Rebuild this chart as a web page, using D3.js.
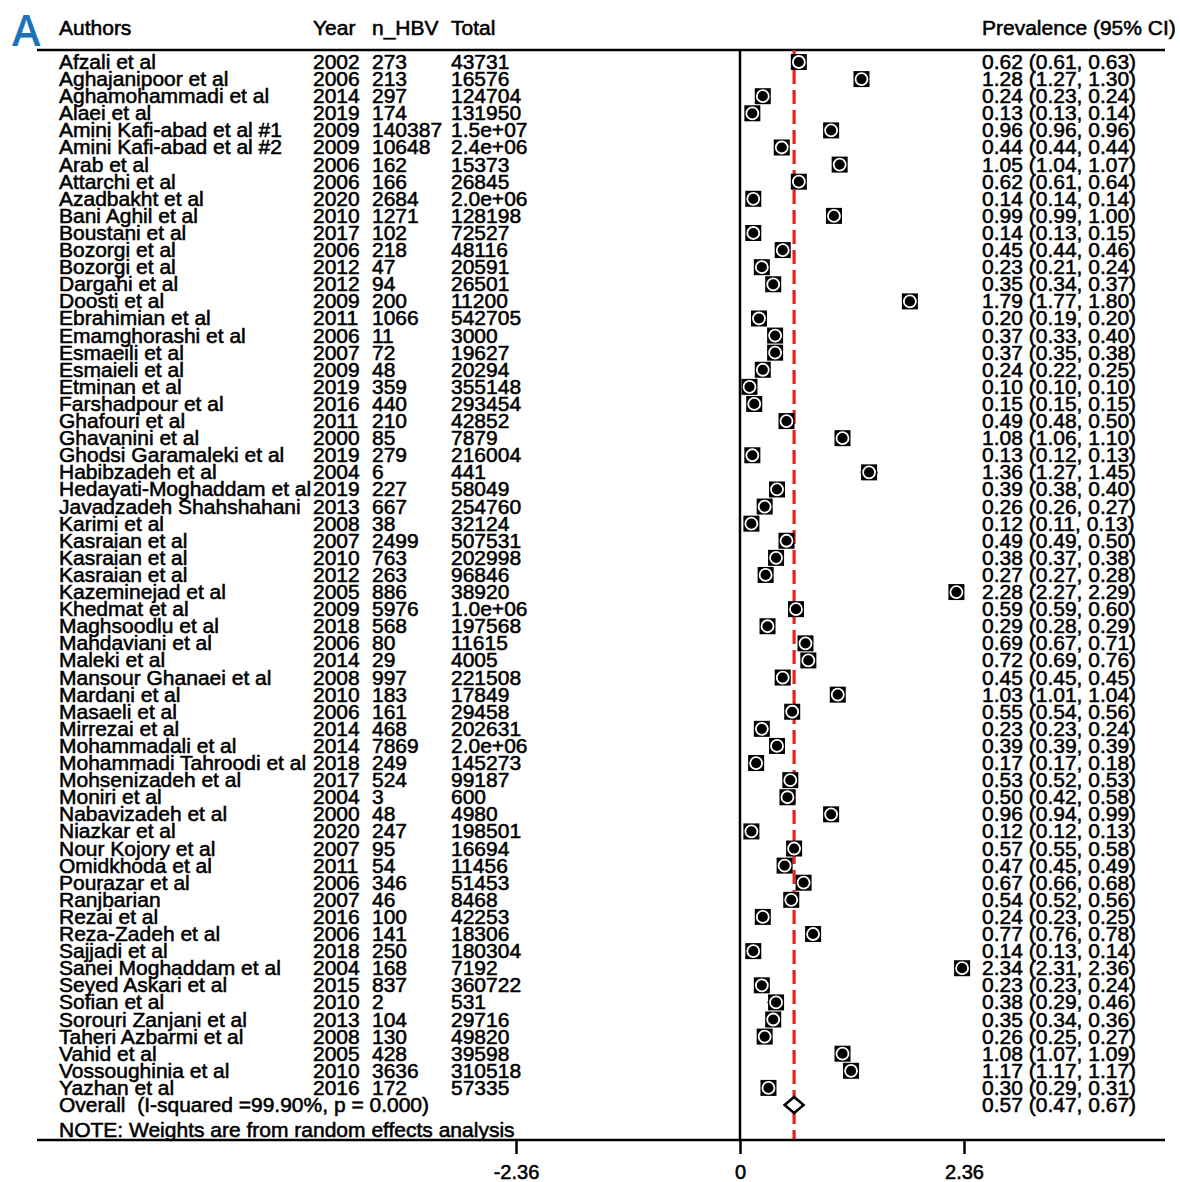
<!DOCTYPE html>
<html>
<head>
<meta charset="utf-8">
<script src="https://cdn.jsdelivr.net/npm/d3@7"></script>
<style>
  html, body { margin: 0; padding: 0; background: #fff; }
  svg text { font-family: "Liberation Sans", Arial, sans-serif; }
</style>
</head>
<body>
<svg id="chart" width="1180" height="1182"></svg>
<script>
const authors = ["Afzali et al","Aghajanipoor et al","Aghamohammadi et al","Alaei et al","Amini Kafi-abad et al #1","Amini Kafi-abad et al #2","Arab et al","Attarchi et al","Azadbakht et al","Bani Aghil et al","Boustani et al","Bozorgi et al","Bozorgi et al","Dargahi et al","Doosti et al","Ebrahimian et al","Emamghorashi et al","Esmaeili et al","Esmaieli et al","Etminan et al","Farshadpour et al","Ghafouri et al","Ghavanini et al","Ghodsi Garamaleki et al","Habibzadeh et al","Hedayati-Moghaddam et al","Javadzadeh Shahshahani","Karimi et al","Kasraian et al","Kasraian et al","Kasraian et al","Kazeminejad et al","Khedmat et al","Maghsoodlu et al","Mahdaviani et al","Maleki et al","Mansour Ghanaei et al","Mardani et al","Masaeli et al","Mirrezai et al","Mohammadali et al","Mohammadi Tahroodi et al","Mohsenizadeh et al","Moniri et al","Nabavizadeh et al","Niazkar et al","Nour Kojory et al","Omidkhoda et al","Pourazar et al","Ranjbarian","Rezai et al","Reza-Zadeh et al","Sajjadi et al","Sanei Moghaddam et al","Seyed Askari et al","Sofian et al","Sorouri Zanjani et al","Taheri Azbarmi et al","Vahid et al","Vossoughinia et al","Yazhan et al"];
const years = [2002,2006,2014,2019,2009,2009,2006,2006,2020,2010,2017,2006,2012,2012,2009,2011,2006,2007,2009,2019,2016,2011,2000,2019,2004,2019,2013,2008,2007,2010,2012,2005,2009,2018,2006,2014,2008,2010,2006,2014,2014,2018,2017,2004,2000,2020,2007,2011,2006,2007,2016,2006,2018,2004,2015,2010,2013,2008,2005,2010,2016];
const nHBV = ["273","213","297","174","140387","10648","162","166","2684","1271","102","218","47","94","200","1066","11","72","48","359","440","210","85","279","6","227","667","38","2499","763","263","886","5976","568","80","29","997","183","161","468","7869","249","524","3","48","247","95","54","346","46","100","141","250","168","837","2","104","130","428","3636","172"];
const totals = ["43731","16576","124704","131950","1.5e+07","2.4e+06","15373","26845","2.0e+06","128198","72527","48116","20591","26501","11200","542705","3000","19627","20294","355148","293454","42852","7879","216004","441","58049","254760","32124","507531","202998","96846","38920","1.0e+06","197568","11615","4005","221508","17849","29458","202631","2.0e+06","145273","99187","600","4980","198501","16694","11456","51453","8468","42253","18306","180304","7192","360722","531","29716","49820","39598","310518","57335"];
const est = [0.62,1.28,0.24,0.13,0.96,0.44,1.05,0.62,0.14,0.99,0.14,0.45,0.23,0.35,1.79,0.20,0.37,0.37,0.24,0.10,0.15,0.49,1.08,0.13,1.36,0.39,0.26,0.12,0.49,0.38,0.27,2.28,0.59,0.29,0.69,0.72,0.45,1.03,0.55,0.23,0.39,0.17,0.53,0.50,0.96,0.12,0.57,0.47,0.67,0.54,0.24,0.77,0.14,2.34,0.23,0.38,0.35,0.26,1.08,1.17,0.30];
const lower = [0.61,1.27,0.23,0.13,0.96,0.44,1.04,0.61,0.14,0.99,0.13,0.44,0.21,0.34,1.77,0.19,0.33,0.35,0.22,0.10,0.15,0.48,1.06,0.12,1.27,0.38,0.26,0.11,0.49,0.37,0.27,2.27,0.59,0.28,0.67,0.69,0.45,1.01,0.54,0.23,0.39,0.17,0.52,0.42,0.94,0.12,0.55,0.45,0.66,0.52,0.23,0.76,0.13,2.31,0.23,0.29,0.34,0.25,1.07,1.17,0.29];
const upper = [0.63,1.30,0.24,0.14,0.96,0.44,1.07,0.64,0.14,1.00,0.15,0.46,0.24,0.37,1.80,0.20,0.40,0.38,0.25,0.10,0.15,0.50,1.10,0.13,1.45,0.40,0.27,0.13,0.50,0.38,0.28,2.29,0.60,0.29,0.71,0.76,0.45,1.04,0.56,0.24,0.39,0.18,0.53,0.58,0.99,0.13,0.58,0.49,0.68,0.56,0.25,0.78,0.14,2.36,0.24,0.46,0.36,0.27,1.09,1.17,0.31];
const overallLabel = "Overall  (I-squared =99.90%, p = 0.000)";
const overallEst = 0.57, overallLo = 0.47, overallHi = 0.67;
const headers = ["Authors","Year","n_HBV","Total","Prevalence (95% CI)"];
const tickValues = [-2.36, 0, 2.36];
const noteText = "NOTE: Weights are from random effects analysis";

const svg = d3.select("#chart");
const fmt = v => v.toFixed(2);
const FS = 21;
const SW = 0.55;

const x = d3.scaleLinear().domain([-2.36, 2.36]).range([516, 964]);
const y = d3.scalePoint().domain(d3.range(authors.length + 1)).range([62, 1105]);

const colX = {author: 59, year: 313, n: 372, total: 451, ci: 982};
const topY = 50, axisY = 1140, lineLeft = 37, lineRight = 1165;

// panel label
svg.append("text").attr("x", 12).attr("y", 46)
  .style("font-family", "'Open Sans', sans-serif")
  .attr("font-size", 43).attr("font-weight", 600).attr("fill", "#1b74bb").text("A");

// headers
const hdr = svg.append("g").attr("font-size", FS).attr("fill", "#000")
  .attr("stroke", "#000").attr("stroke-width", SW);
[[headers[0], colX.author],[headers[1], colX.year],[headers[2], colX.n],[headers[3], colX.total],[headers[4], colX.ci]]
  .forEach(([t, px]) => hdr.append("text").attr("x", px).attr("y", 35).text(t));

// top rule
svg.append("line").attr("x1", lineLeft).attr("x2", lineRight).attr("y1", topY).attr("y2", topY)
  .attr("stroke", "#000").attr("stroke-width", 2.5);

// zero line
svg.append("line").attr("x1", x(0)).attr("x2", x(0)).attr("y1", topY).attr("y2", axisY)
  .attr("stroke", "#000").attr("stroke-width", 2.5);

// overall dashed line
svg.append("line").attr("x1", x(overallEst)).attr("x2", x(overallEst)).attr("y1", topY).attr("y2", axisY)
  .attr("stroke", "#e8231c").attr("stroke-width", 3.2).attr("stroke-dasharray", "14,6");

// row texts
const rows = svg.append("g").attr("font-size", FS).attr("fill", "#000")
  .attr("stroke", "#000").attr("stroke-width", SW);
authors.forEach((a, i) => {
  const yy = y(i) + 7;
  rows.append("text").attr("x", colX.author).attr("y", yy).text(a);
  rows.append("text").attr("x", colX.year).attr("y", yy).text(years[i]);
  rows.append("text").attr("x", colX.n).attr("y", yy).text(nHBV[i]);
  rows.append("text").attr("x", colX.total).attr("y", yy).text(totals[i]);
  rows.append("text").attr("x", colX.ci).attr("y", yy)
    .text(`${fmt(est[i])} (${fmt(lower[i])}, ${fmt(upper[i])})`);
});
const oi = authors.length;
rows.append("text").attr("x", colX.author).attr("y", y(oi) + 7)
  .style("white-space", "pre").text(overallLabel);
rows.append("text").attr("x", colX.ci).attr("y", y(oi) + 7)
  .text(`${fmt(overallEst)} (${fmt(overallLo)}, ${fmt(overallHi)})`);
rows.append("text").attr("x", colX.author).attr("y", 1137).text(noteText);

// CI lines and markers
const marks = svg.append("g");
authors.forEach((a, i) => {
  marks.append("line").attr("x1", x(lower[i])).attr("x2", x(upper[i]))
    .attr("y1", y(i)).attr("y2", y(i)).attr("stroke", "#000").attr("stroke-width", 2);
  const g = marks.append("g").attr("transform", `translate(${x(est[i])},${y(i)})`);
  g.append("rect").attr("x", -8).attr("y", -8).attr("width", 16).attr("height", 16).attr("fill", "#000");
  g.append("circle").attr("r", 6).attr("fill", "#000").attr("stroke", "#fff").attr("stroke-width", 1.8);
});

// overall diamond
const yo = y(oi);
svg.append("path")
  .attr("d", `M${x(overallLo)},${yo} L${x(overallEst)},${yo - 8} L${x(overallHi)},${yo} L${x(overallEst)},${yo + 8} Z`)
  .attr("fill", "#fff").attr("stroke", "#000").attr("stroke-width", 2.5);

// bottom axis
svg.append("line").attr("x1", lineLeft).attr("x2", lineRight).attr("y1", axisY).attr("y2", axisY)
  .attr("stroke", "#000").attr("stroke-width", 2.5);
const axis = svg.append("g").attr("transform", `translate(0,${axisY})`)
  .call(d3.axisBottom(x).tickValues(tickValues).tickSize(14).tickPadding(11)
    .tickFormat(d => d === 0 ? "0" : fmt(d)));
axis.select(".domain").remove();
axis.selectAll(".tick line").attr("stroke", "#000").attr("stroke-width", 2.5);
axis.selectAll(".tick text").attr("font-size", 20).attr("fill", "#000")
  .attr("stroke", "#000").attr("stroke-width", SW)
  .style("font-family", "'Liberation Sans', Arial, sans-serif");
</script>
</body>
</html>
